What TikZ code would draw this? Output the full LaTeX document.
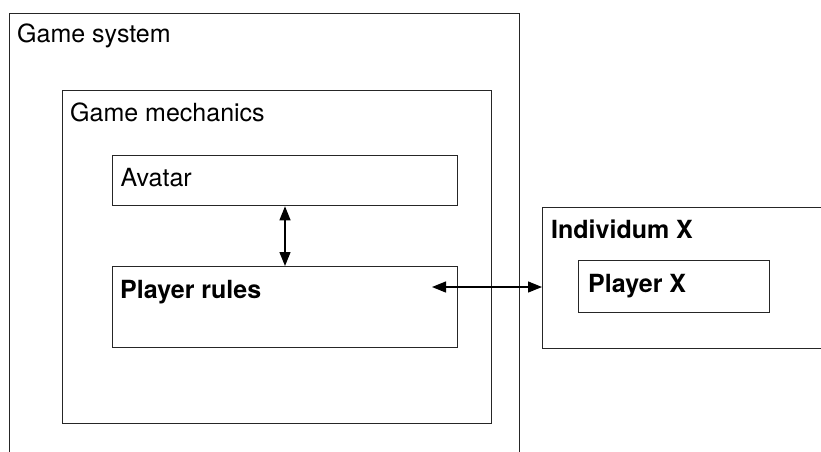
\documentclass[tikz,border=0pt]{standalone}
\usepackage{fontspec}
\setmainfont{TeX Gyre Heros}
\usetikzlibrary{arrows.meta}
\begin{document}
\begin{tikzpicture}[x=1pt,y=-1pt,
  box/.style={draw=black!85, line width=1.3pt, rectangle, inner sep=0pt, anchor=north west},
  lbl/.style={anchor=base west, inner sep=0pt, font=\fontsize{25}{28}\selectfont},
  blbl/.style={lbl, font=\fontsize{25}{28}\selectfont\bfseries},
  conn/.style={line width=1.3pt, {Triangle[length=14pt,width=11pt]}-{Triangle[length=14pt,width=11pt]}}]
\useasboundingbox (0,0) rectangle (821,451);
\clip (0,0) rectangle (821,451);
% boxes
\node[box, minimum width=510pt, minimum height=480pt] (sys) at (9,13) {};
\node[box, minimum width=429pt, minimum height=333pt] (mech) at (61.5,89.5) {};
\node[box, minimum width=345pt, minimum height=50pt] (avatar) at (112,155) {};
\node[box, minimum width=345pt, minimum height=81pt] (rules) at (112,266) {};
\node[box, minimum width=300pt, minimum height=141pt] (indiv) at (542,207) {};
\node[box, minimum width=191pt, minimum height=52pt] (px) at (578,260) {};
% labels
\node[lbl] (tsys) at (17,42) {Game system};
\node[lbl] (tmech) at (70,121.5) {Game mechanics};
\node[lbl] (tav) at (120.5,186.5) {Avatar};
\node[blbl] (trules) at (120,298) {Player rules};
\node[blbl] (tind) at (551,238) {Individum X};
\node[blbl] (tpx) at (588,292) {Player X};
% connectors
\coordinate (ra) at (432,287);
\draw[conn] (avatar.south -| 285,0) -- (rules.north -| 285,0);
\draw[conn] (ra) -- (indiv.west |- ra);
\end{tikzpicture}
\end{document}
